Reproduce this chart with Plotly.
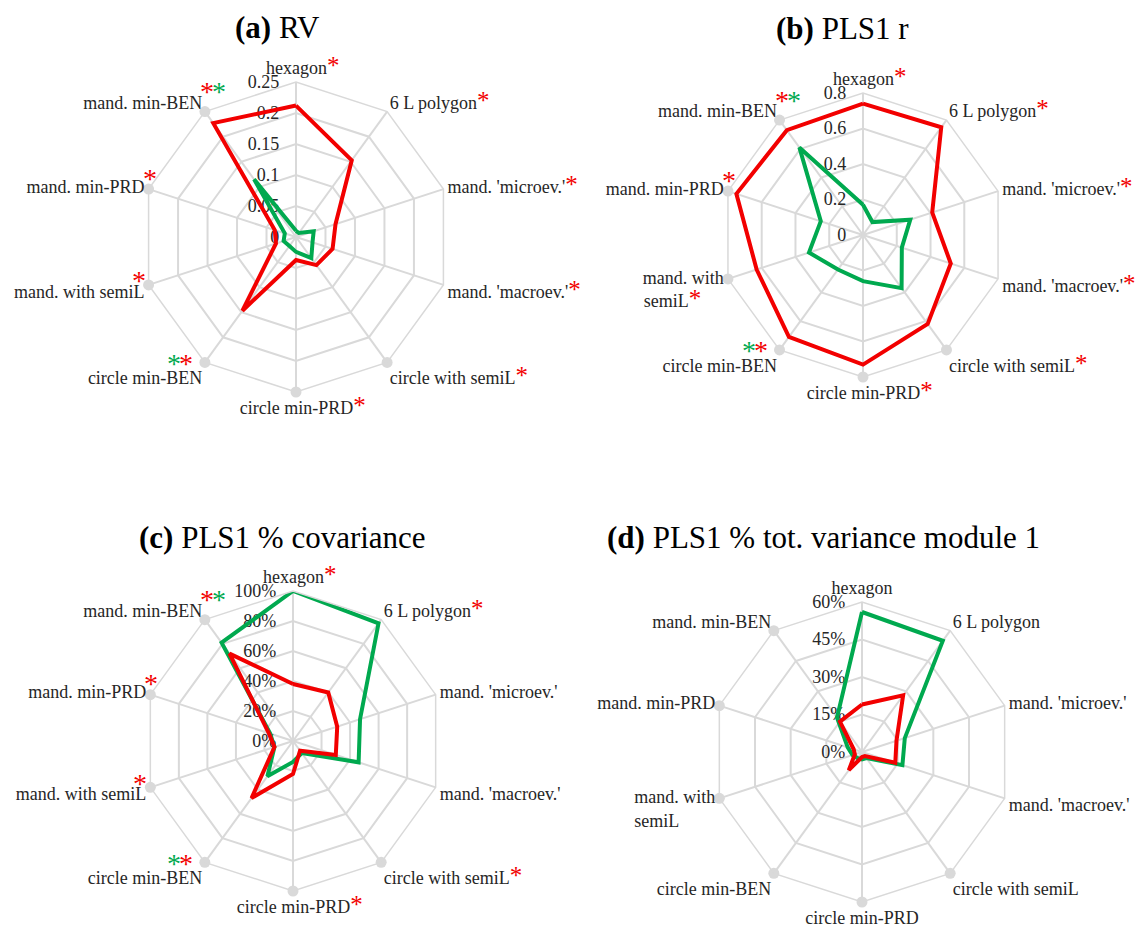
import math
import plotly.graph_objects as go

# Axis categories, clockwise from the top
categories = [
    "hexagon", "6 L polygon", "mand. 'microev.'", "mand. 'macroev.'",
    "circle with semiL", "circle min-PRD", "circle min-BEN",
    "mand. with semiL", "mand. min-PRD", "mand. min-BEN",
]

# (a) RV
rv_red = [0.212, 0.153, 0.067, 0.062, 0.056, 0.037, 0.147, 0.034, 0.036, 0.227]
rv_green = [0.010, 0.008, 0.030, 0.028, 0.042, 0.024, 0.018, 0.021, 0.019, 0.115]

# (b) PLS1 r
r_red = [0.74, 0.75, 0.41, 0.52, 0.62, 0.73, 0.71, 0.63, 0.75, 0.73]
r_green = [0.17, 0.09, 0.28, 0.23, 0.37, 0.26, 0.24, 0.32, 0.25, 0.61]

# (c) PLS1 % covariance
cov_red = [38, 40, 31, 30, 8, 22, 47, 13, 17, 72]
cov_green = [100, 97, 47, 46, 10, 14, 29, 13, 16, 81]

# (d) PLS1 % tot. variance module 1
var_red = [19, 28, 14.5, 14, 2, 2, 9, 3, 3.5, 15]
var_green = [56, 55, 18, 17, 3, 3, 3, 4, 6, 17]

# Significance markers per axis: r = red star, g = green star
stars_a = ["r", "r", "r", "r", "r", "r", "gr", "r", "r", "rg"]
stars_b = ["r", "r", "r", "r", "r", "r", "gr", "r", "r", "rg"]
stars_c = ["r", "r", "", "", "r", "r", "gr", "r", "r", "rg"]
stars_d = ["", "", "", "", "", "", "", "", "", ""]

# Axes that carry a grey end dot
dot_axes = ["circle with semiL", "circle min-PRD", "circle min-BEN",
            "mand. with semiL", "mand. min-PRD", "mand. min-BEN"]

RED = "#f20000"
GREEN = "#00a94f"
GRID = "#d9d9d9"
FONT = "Liberation Serif"
STAR_SIZE = 25

W, H = 1142, 929

# On the left-hand axes the stars sit just past the end of the label,
# so they are drawn as separate notes offset from the axis end point.
LEFT_STAR_OFFSET = {
    "circle min-BEN": (-31, 1),
    "mand. with semiL": (-10, -4),
    "mand. min-PRD": (1, -11),
    "mand. min-BEN": (2, -20),
}


def star_spans(stars, size=STAR_SIZE):
    out = ""
    for c in stars:
        col = RED if c == "r" else GREEN
        out += f"<span style='color:{col};font-size:{size}px'>*</span>"
    return out


def label_text(name, stars, wrap):
    if wrap and name == "mand. with semiL":
        # second line padded so both lines start at the same x
        pad = "&nbsp;" * (5 if stars else 8)
        return "mand. with<br>semiL" + star_spans(stars) + pad
    if name in LEFT_STAR_OFFSET:
        return name
    if name in ("hexagon", "circle min-PRD") and stars:
        # keep the word centred on its axis
        return "&nbsp;" * (3 * len(stars)) + name + star_spans(stars)
    return name + star_spans(stars)


def domain(cx, cy, R):
    return dict(x=[(cx - R) / W, (cx + R) / W],
                y=[1 - (cy + R) / H, 1 - (cy - R) / H])


panels = [
    dict(red=rv_red, green=rv_green, stars=stars_a, wrap=False,
         rng=[0, 0.25], ticks=[0, 0.05, 0.1, 0.15, 0.2, 0.25],
         tt=["0", "0.05", "0.1", "0.15", "0.2", "0.25"],
         c=(296, 237, 155)),
    dict(red=r_red, green=r_green, stars=stars_b, wrap=True,
         rng=[0, 0.8], ticks=[0, 0.2, 0.4, 0.6, 0.8],
         tt=["0", "0.2", "0.4", "0.6", "0.8"],
         c=(863, 235, 142)),
    dict(red=cov_red, green=cov_green, stars=stars_c, wrap=False,
         rng=[0, 100], ticks=[0, 20, 40, 60, 80, 100],
         tt=["0%", "20%", "40%", "60%", "80%", "100%"],
         c=(293, 741, 150)),
    dict(red=var_red, green=var_green, stars=stars_d, wrap=True,
         rng=[0, 60], ticks=[0, 15, 30, 45, 60],
         tt=["0%", "15%", "30%", "45%", "60%"],
         c=(862, 752, 150)),
]

fig = go.Figure()
layout = {}
annotations = []
for i, p in enumerate(panels):
    sub = "polar" if i == 0 else f"polar{i + 1}"
    theta = categories + [categories[0]]
    fig.add_trace(go.Scatterpolar(
        r=p["green"] + [p["green"][0]], theta=theta, mode="lines",
        line=dict(color=GREEN, width=4), subplot=sub, showlegend=False))
    fig.add_trace(go.Scatterpolar(
        r=p["red"] + [p["red"][0]], theta=theta, mode="lines",
        line=dict(color=RED, width=4), subplot=sub, showlegend=False))
    fig.add_trace(go.Scatterpolar(
        r=[p["rng"][1]] * len(dot_axes), theta=dot_axes, mode="markers",
        marker=dict(color=GRID, size=11), subplot=sub, showlegend=False,
        cliponaxis=False))
    labels = [label_text(n, s, p["wrap"]) for n, s in zip(categories, p["stars"])]
    cx, cy, R = p["c"]
    pad = "&nbsp;" * 3
    layout[sub] = dict(
        domain=domain(cx, cy, R),
        bgcolor="white",
        gridshape="linear",
        angularaxis=dict(
            type="category", categoryarray=categories,
            direction="clockwise", rotation=90,
            tickmode="array", tickvals=categories, ticktext=labels,
            showline=True, linecolor=GRID, linewidth=1.5,
            gridcolor=GRID, gridwidth=1.5, ticks="",
            tickfont=dict(family=FONT, size=18, color="#262626"),
        ),
        radialaxis=dict(
            range=p["rng"], tickmode="array", tickvals=p["ticks"],
            ticktext=[t + pad for t in p["tt"]],
            angle=90, tickangle=90, side="counterclockwise", showline=False, ticks="",
            gridcolor=GRID, gridwidth=1.5, layer="below traces",
            tickfont=dict(family=FONT, size=18, color="#262626"),
        ),
    )
    # stars next to the left-hand labels
    for k, (name, stars) in enumerate(zip(categories, p["stars"])):
        if not stars or name not in LEFT_STAR_OFFSET:
            continue
        if p["wrap"] and name == "mand. with semiL":
            continue
        ang = math.radians(36 * k)
        ex = cx + R * math.sin(ang)
        ey = cy - R * math.cos(ang)
        dx, dy = LEFT_STAR_OFFSET[name]
        for j, c in enumerate(stars):
            col = RED if c == "r" else GREEN
            annotations.append(dict(
                text="*", x=(ex + dx + 12 * j) / W, y=1 - (ey + dy) / H,
                xref="paper", yref="paper", xanchor="center", yanchor="middle",
                showarrow=False, font=dict(family=FONT, size=28, color=col)))

titles = [
    ("<b>(a)</b> RV", 277, 28),
    ("<b>(b)</b> PLS1 r", 843, 29),
    ("<b>(c)</b> PLS1 % covariance", 282, 537),
    ("<b>(d)</b> PLS1 % tot. variance module 1", 823, 537),
]
for t, x, y in titles:
    annotations.append(dict(
        text=t, x=x / W, y=1 - y / H, xref="paper", yref="paper",
        xanchor="center", yanchor="middle", showarrow=False,
        font=dict(family=FONT, size=31, color="black")))

fig.update_layout(
    width=W, height=H, margin=dict(l=0, r=0, t=0, b=0),
    paper_bgcolor="white", plot_bgcolor="white",
    annotations=annotations, **layout,
)

fig.write_html("out.html")
